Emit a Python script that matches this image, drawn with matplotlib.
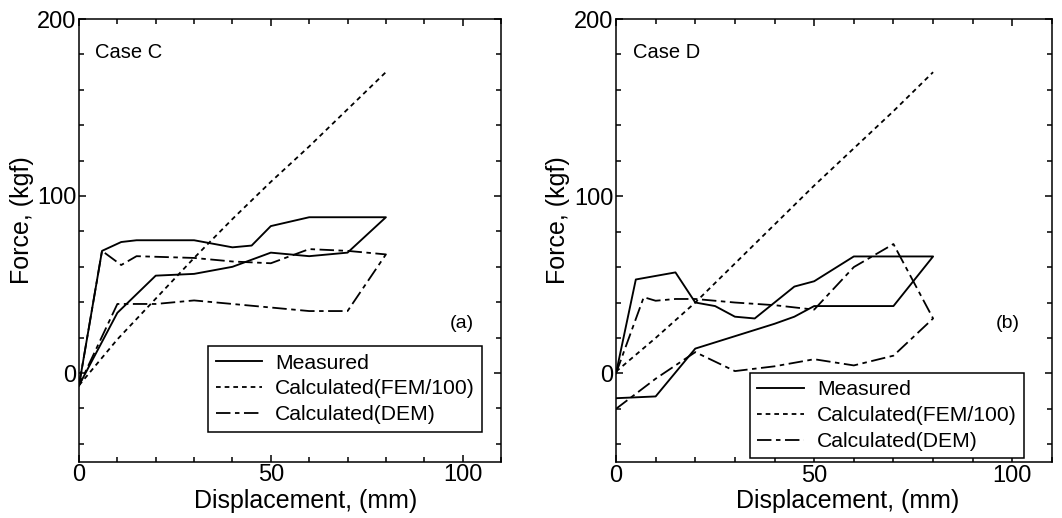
import matplotlib
matplotlib.use("Agg")
import matplotlib.pyplot as plt
from matplotlib.lines import Line2D
from matplotlib.ticker import MultipleLocator

plt.rcParams['font.family'] = ['Liberation Sans', 'DejaVu Sans']

# ---- Case C ----
disp_c_measured = [0, 6, 11, 15, 30, 40, 45, 50, 60, 80, 70, 60, 50, 40, 30, 20, 10, 0]
force_c_measured = [-7, 69, 74, 75, 75, 71, 72, 83, 88, 88, 68, 66, 68, 60, 56, 55, 34, -7]

disp_c_fem = [0, 10, 20, 30, 40, 50, 60, 70, 80]
force_c_fem = [-7, 19, 42, 65, 87, 108, 128, 149, 170]

disp_c_dem = [0, 6, 11, 15, 30, 40, 50, 60, 70, 80, 70, 60, 50, 40, 30, 20, 10, 0]
force_c_dem = [-7, 69, 61, 66, 65, 63, 62, 70, 69, 67, 35, 35, 37, 39, 41, 39, 39, -7]

# ---- Case D ----
disp_d_measured = [0, 5, 10, 15, 20, 25, 30, 35, 40, 45, 50, 60, 80, 70, 50, 45, 40, 30, 20, 10, 0]
force_d_measured = [0, 53, 55, 57, 40, 38, 32, 31, 40, 49, 52, 66, 66, 38, 38, 32, 28, 21, 14, -13, -14]

disp_d_fem = [0, 10, 20, 30, 40, 50, 60, 70, 80]
force_d_fem = [1, 20, 40, 62, 84, 106, 127, 148, 170]

disp_d_dem = [0, 7, 10, 15, 20, 30, 40, 50, 60, 70, 80, 70, 60, 50, 40, 30, 20, 10, 0]
force_d_dem = [0, 43, 41, 42, 42, 40, 38.5, 36, 60, 73, 31, 10, 4.5, 8, 4, 1.3, 12, -3, -20]

case_titles = ["Case C", "Case D"]
panel_tags = ["(a)", "(b)"]
legend_labels = ["Measured", "Calculated(FEM/100)", "Calculated(DEM)"]
x_label = "Displacement, (mm)"
y_label = "Force, (kgf)"

W, H = 1062, 518
fig = plt.figure(figsize=(W / 100, H / 100), dpi=100)

def frac_box(x0, y0, x1, y1):
    return [x0 / W, 1 - y1 / H, (x1 - x0) / W, (y1 - y0) / H]

ax_c = fig.add_axes(frac_box(79, 19, 501, 461.5))
ax_d = fig.add_axes(frac_box(616, 19, 1052, 462))

style_measured = dict(color='black', lw=1.35, linestyle='-')
style_fem = dict(color='black', lw=1.3, linestyle=(0, (2.6, 2.2)))
style_dem = dict(color='black', lw=1.3, linestyle=(0, (8, 2.5, 2.5, 2.5)))

datasets = [
    (ax_c, disp_c_measured, force_c_measured, disp_c_fem, force_c_fem, disp_c_dem, force_c_dem),
    (ax_d, disp_d_measured, force_d_measured, disp_d_fem, force_d_fem, disp_d_dem, force_d_dem),
]

legend_anchor = [(0.306, 0.067), (0.307, 0.008)]
tag_pos = [(99.7, 28), (98.9, 28)]
xlabel_x = [0.538, 0.532]

for i, (ax, xm, ym, xf, yf, xd, yd) in enumerate(datasets):
    ax.plot(xm, ym, **style_measured)
    ax.plot(xf, yf, **style_fem)
    ax.plot(xd, yd, **style_dem)

    ax.set_xlim(0, 110)
    ax.set_ylim(-50, 200)
    ax.xaxis.set_major_locator(MultipleLocator(50))
    ax.xaxis.set_minor_locator(MultipleLocator(10))
    ax.yaxis.set_major_locator(MultipleLocator(100))
    ax.yaxis.set_minor_locator(MultipleLocator(20))
    ax.tick_params(which='both', direction='in', top=True, right=True,
                   width=1.1, labelsize=17, pad=2)
    ax.tick_params(which='major', length=5)
    ax.tick_params(which='minor', length=3.5)
    for s in ax.spines.values():
        s.set_linewidth(1.1)

    ax.set_xlabel(x_label, fontsize=18)
    ax.xaxis.set_label_coords(xlabel_x[i], -0.062)
    ax.set_ylabel(y_label, fontsize=18)
    ax.yaxis.set_label_coords(-0.106, 0.545)

    ax.text(4.2, 181, case_titles[i], fontsize=14.5, ha='left', va='center')
    ax.text(tag_pos[i][0], tag_pos[i][1], panel_tags[i], fontsize=14,
            ha='center', va='center')

    handles = [Line2D([], [], **style_measured),
               Line2D([], [], **style_fem),
               Line2D([], [], **style_dem)]
    leg = ax.legend(handles, legend_labels, loc='lower left',
                    bbox_to_anchor=legend_anchor[i], borderaxespad=0,
                    fontsize=15.2, handlelength=2.2, handletextpad=0.62,
                    labelspacing=0.33, borderpad=0.35, fancybox=False,
                    framealpha=1, edgecolor='black')
    leg.get_frame().set_linewidth(1.1)

fig.savefig("out.png", dpi=100)
